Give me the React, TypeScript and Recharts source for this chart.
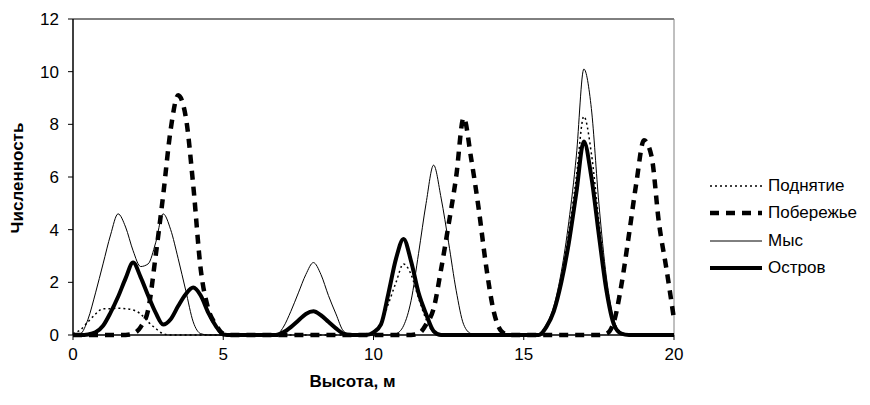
import React from 'react';
import { LineChart, Line, XAxis, YAxis, Legend, ReferenceLine, Label } from 'recharts';

// Height (m), step 0.25
const heights = [
  0, 0.25, 0.5, 0.75, 1, 1.25, 1.5, 1.75, 2, 2.25, 2.5, 2.75, 3, 3.25, 3.5, 3.75,
  4, 4.25, 4.5, 4.75, 5, 5.25, 5.5, 5.75, 6, 6.25, 6.5, 6.75, 7, 7.25, 7.5, 7.75,
  8, 8.25, 8.5, 8.75, 9, 9.25, 9.5, 9.75, 10, 10.25, 10.5, 10.75, 11, 11.25, 11.5, 11.75,
  12, 12.25, 12.5, 12.75, 13, 13.25, 13.5, 13.75, 14, 14.25, 14.5, 14.75, 15, 15.25, 15.5, 15.75,
  16, 16.25, 16.5, 16.75, 17, 17.25, 17.5, 17.75, 18, 18.25, 18.5, 18.75, 19, 19.25, 19.5, 19.75, 20,
];

const podnyatie = [
  0.05, 0.2, 0.5, 0.8, 1.0, 1.0, 1.02, 1.0, 0.95, 0.8, 0.5, 0.25, 0.05, 0, 0, 0,
  0, 0, 0, 0, 0, 0, 0, 0, 0, 0, 0, 0, 0, 0, 0, 0,
  0, 0, 0, 0, 0, 0, 0, 0, 0.1, 0.45, 1.2, 2.0, 2.7, 2.3, 1.4, 0.6,
  0.1, 0, 0, 0, 0, 0, 0, 0, 0, 0, 0, 0, 0, 0, 0, 0.3,
  0.9, 2.1, 3.9, 6.0, 8.3, 6.9, 4.3, 1.9, 0.5, 0.1, 0, 0, 0, 0, 0, 0, 0,
];

const poberezhye = [
  0, 0, 0, 0, 0, 0, 0, 0, 0.05, 0.3, 0.95, 3.0, 5.3, 7.8, 9.1, 8.3,
  5.7, 2.5, 1.0, 0.4, 0.05, 0, 0, 0, 0, 0, 0, 0, 0, 0, 0, 0,
  0, 0, 0, 0, 0, 0, 0, 0, 0, 0, 0, 0, 0, 0, 0.05, 0.4,
  1.0, 2.5, 4.2, 6.0, 8.25, 6.7, 4.8, 2.6, 0.9, 0.15, 0, 0, 0, 0, 0, 0,
  0, 0, 0, 0, 0, 0, 0, 0.05, 0.5, 1.9, 3.8, 5.8, 7.4, 6.8, 4.25, 2.5, 0.6,
];

const mys = [
  0, 0.05, 0.6, 1.6, 2.7, 3.8, 4.6, 4.1, 3.2, 2.6, 2.7, 3.5, 4.6, 4.0, 2.9, 1.7,
  0.5, 0.05, 0, 0, 0, 0, 0, 0, 0, 0, 0, 0, 0.3, 0.9, 1.6, 2.3,
  2.75, 2.3, 1.5, 0.8, 0.15, 0, 0, 0, 0, 0, 0, 0.05, 0.35, 1.3, 3.1, 5.0,
  6.45, 5.2, 3.5, 1.7, 0.4, 0.05, 0, 0, 0, 0, 0, 0, 0, 0, 0.05, 0.4,
  1.1, 2.4, 4.3, 6.8, 10.1, 8.6, 5.0, 2.2, 0.6, 0.05, 0, 0, 0, 0, 0, 0, 0,
];

const ostrov = [
  0, 0, 0.02, 0.1, 0.35, 0.85, 1.45, 2.15, 2.75, 2.2, 1.5, 0.85, 0.4, 0.6, 1.1, 1.55,
  1.8, 1.5, 0.85, 0.35, 0.02, 0, 0, 0, 0, 0, 0, 0, 0.1, 0.3, 0.55, 0.8,
  0.9, 0.75, 0.5, 0.25, 0.05, 0, 0, 0, 0.1, 0.4, 1.6, 2.9, 3.65, 2.8, 1.6, 0.8,
  0.15, 0, 0, 0, 0, 0, 0, 0, 0, 0, 0, 0, 0, 0, 0, 0.3,
  0.9, 2.0, 3.5, 5.4, 7.35, 6.0, 3.8, 1.7, 0.4, 0.05, 0, 0, 0, 0, 0, 0, 0,
];

const xTicks = [0, 5, 10, 15, 20];
const yTicks = [0, 2, 4, 6, 8, 10, 12];

const seriesNames = ['Поднятие', 'Побережье', 'Мыс', 'Остров'];

const data = heights.map((x, i) => ({
  x,
  podnyatie: podnyatie[i],
  poberezhye: poberezhye[i],
  mys: mys[i],
  ostrov: ostrov[i],
}));

const SERIES = [
  { key: 'podnyatie', name: seriesNames[0], width: 1.5, dash: '2 3' },
  { key: 'poberezhye', name: seriesNames[1], width: 4.5, dash: '9 7' },
  { key: 'mys', name: seriesNames[2], width: 1, dash: undefined as string | undefined },
  { key: 'ostrov', name: seriesNames[3], width: 4, dash: undefined as string | undefined },
];

const FONT = '"Liberation Sans", Arial, sans-serif';

const renderLegend = () => (
  <div style={{ fontFamily: FONT, fontSize: 17, color: '#000' }}>
    {SERIES.map((s) => (
      <div key={s.key} style={{ display: 'flex', alignItems: 'center', height: 27.5 }}>
        <svg width={54} height={10} style={{ display: 'block' }}>
          <line x1={1} y1={5} x2={53} y2={5} stroke="#000" strokeWidth={s.width} strokeDasharray={s.dash} />
        </svg>
        <span style={{ marginLeft: 5, lineHeight: '20px' }}>{s.name}</span>
      </div>
    ))}
  </div>
);

export default function App() {
  return (
    <div style={{ width: 862, height: 390, fontFamily: FONT, background: '#fff' }}>
      <LineChart
        width={862}
        height={390}
        data={data}
        margin={{ top: 11, right: 196, left: 0, bottom: 3 }}
        style={{ fontFamily: FONT }}
      >
        <XAxis
          type="number"
          dataKey="x"
          domain={[0, 20]}
          ticks={xTicks}
          interval={0}
          height={60}
          tickSize={5}
          tickMargin={8}
          axisLine={{ stroke: '#000', strokeWidth: 1.5 }}
          tickLine={{ stroke: '#000' }}
          tick={{ fill: '#000', fontSize: 17 }}
        >
          <Label value="Высота, м" position="center" dx={-21} dy={16} fontWeight="bold" fontSize={17} fill="#000" />
        </XAxis>
        <YAxis
          type="number"
          domain={[0, 12]}
          ticks={yTicks}
          interval={0}
          width={65}
          tickSize={5}
          tickMargin={9}
          axisLine={{ stroke: '#000', strokeWidth: 1.5 }}
          tickLine={{ stroke: '#000' }}
          tick={{ fill: '#000', fontSize: 17 }}
        >
          <Label value="Численность" position="center" angle={-90} dx={-23.5} dy={1} fontWeight="bold" fontSize={17} fill="#000" />
        </YAxis>
        <ReferenceLine y={12} stroke="#000" strokeWidth={1} />
        <ReferenceLine x={20} stroke="#808080" strokeWidth={1} />
        <Legend
          layout="vertical"
          align="center"
          verticalAlign="middle"
          content={renderLegend}
          wrapperStyle={{ left: 701, top: 164, width: 160 }}
        />
        {SERIES.map((s) => (
          <Line
            key={s.key}
            type="monotone"
            dataKey={s.key}
            name={s.name}
            stroke="#000"
            strokeWidth={s.width}
            strokeDasharray={s.dash}
            dot={false}
            activeDot={false}
            isAnimationActive={false}
          />
        ))}
      </LineChart>
    </div>
  );
}
